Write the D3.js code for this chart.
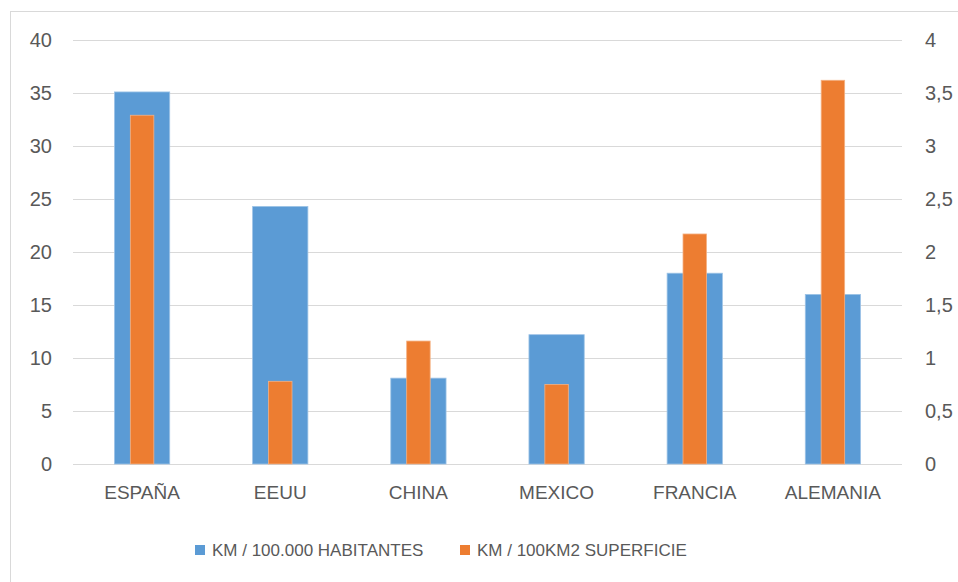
<!DOCTYPE html>
<html>
<head>
<meta charset="utf-8">
<script src="https://cdn.jsdelivr.net/npm/d3@7"></script>
<style>
  html, body { margin: 0; padding: 0; background: #fff; }
  svg text { font-family: "Liberation Sans", Arial, sans-serif; fill: #595959; }
</style>
</head>
<body>
<svg id="chart" width="958" height="582"></svg>
<script>
// Railway network density by country
const categories = ["ESPAÑA", "EEUU", "CHINA", "MEXICO", "FRANCIA", "ALEMANIA"];
const kmPerHabitants = [35.1, 24.3, 8.1, 12.2, 18.0, 16.0];      // left axis
const kmPerSurface = [3.29, 0.78, 1.16, 0.75, 2.17, 3.62];        // right axis
const leftTicks = [0, 5, 10, 15, 20, 25, 30, 35, 40];
const rightTicks = [0, 0.5, 1, 1.5, 2, 2.5, 3, 3.5, 4];
const seriesNames = ["KM / 100.000 HABITANTES", "KM / 100KM2 SUPERFICIE"];

const colors = ["#5B9BD5", "#ED7D31"];
const outlines = ["#9DC3E6", "#F4B183"];

const svg = d3.select("#chart");
const plot = { left: 73, right: 902, top: 40, bottom: 464 };

// Chart frame
svg.append("rect")
  .attr("x", 10.5).attr("y", 11.5)
  .attr("width", 1000).attr("height", 1000)
  .attr("fill", "none").attr("stroke", "#D9D9D9").attr("stroke-width", 1);

const x = d3.scaleBand().domain(categories).range([plot.left, plot.right]);
const yL = d3.scaleLinear().domain([0, 40]).range([plot.bottom, plot.top]);
const yR = d3.scaleLinear().domain([0, 4]).range([plot.bottom, plot.top]);

// Gridlines
svg.append("g").selectAll("line").data(leftTicks).join("line")
  .attr("x1", plot.left).attr("x2", plot.right)
  .attr("y1", d => Math.round(yL(d)) + 0.5).attr("y2", d => Math.round(yL(d)) + 0.5)
  .attr("stroke", "#D9D9D9").attr("stroke-width", 1);

// Left axis
const leftAxis = svg.append("g")
  .attr("transform", `translate(${plot.left},0)`)
  .call(d3.axisLeft(yL).tickValues(leftTicks).tickSize(0).tickPadding(21));
leftAxis.select(".domain").remove();
leftAxis.selectAll("text").style("font-size", "20px").attr("fill", "#595959");

// Right axis
const fmtR = d => String(d).replace(".", ",");
const rightAxis = svg.append("g")
  .attr("transform", `translate(${plot.right},0)`)
  .call(d3.axisRight(yR).tickValues(rightTicks).tickFormat(fmtR).tickSize(0).tickPadding(23));
rightAxis.select(".domain").remove();
rightAxis.selectAll("text").style("font-size", "20px").attr("fill", "#595959");

// Category axis
const bottomAxis = svg.append("g")
  .attr("transform", `translate(0,${plot.bottom})`)
  .call(d3.axisBottom(x).tickSize(0).tickPadding(22));
bottomAxis.select(".domain").remove();
bottomAxis.selectAll("text").style("font-size", "19px").attr("fill", "#595959");

// Wide bars (left axis)
const wideW = x.bandwidth() * 0.4;
svg.append("g").selectAll("rect").data(categories).join("rect")
  .attr("x", d => x(d) + (x.bandwidth() - wideW) / 2)
  .attr("y", (d, i) => yL(kmPerHabitants[i]))
  .attr("width", wideW)
  .attr("height", (d, i) => yL(0) - yL(kmPerHabitants[i]))
  .attr("fill", colors[0]).attr("stroke", outlines[0]).attr("stroke-width", 0.8);

// Narrow bars (right axis)
const narrowW = x.bandwidth() * 0.17;
svg.append("g").selectAll("rect").data(categories).join("rect")
  .attr("x", d => x(d) + (x.bandwidth() - narrowW) / 2)
  .attr("y", (d, i) => yR(kmPerSurface[i]))
  .attr("width", narrowW)
  .attr("height", (d, i) => yR(0) - yR(kmPerSurface[i]))
  .attr("fill", colors[1]).attr("stroke", outlines[1]).attr("stroke-width", 0.8);

// Legend
const legendItems = [{ x: 195, name: seriesNames[0], c: colors[0] }, { x: 460, name: seriesNames[1], c: colors[1] }];
const legend = svg.append("g");
legendItems.forEach(it => {
  legend.append("rect").attr("x", it.x).attr("y", 545).attr("width", 10).attr("height", 10).attr("fill", it.c);
  legend.append("text").attr("x", it.x + 17).attr("y", 556)
    .style("font-size", "17px").text(it.name);
});
</script>
</body>
</html>
